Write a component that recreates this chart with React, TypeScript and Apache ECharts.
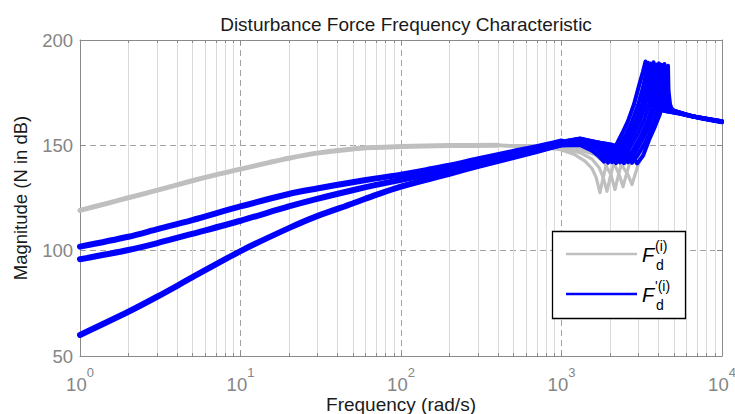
import React, { useEffect, useRef } from "react";
import * as echarts from "echarts";

type Pt = [number, number];

const FONT = "'Liberation Sans', Arial, Helvetica, sans-serif";
const TITLE = "Disturbance Force Frequency Characteristic";
const X_NAME = "Frequency (rad/s)";
const Y_NAME = "Magnitude (N in dB)";
const Y_MIN = 50;
const Y_MAX = 200;
const Y_STEP = 50;
const X_MIN = 1;
const X_MAX = 10000;
const MINOR_X: number[] = [
  2, 3, 4, 5, 6, 7, 8, 9,
  20, 30, 40, 50, 60, 70, 80, 90,
  200, 300, 400, 500, 600, 700, 800, 900,
  2000, 3000, 4000, 5000, 6000, 7000, 8000, 9000,
];

// ---- F_d^(i) (gray) ----
const grayBase: Pt[] = [
  [1, 119.1], [1.5, 122.6], [2, 125.1], [3, 128.6], [5, 133.2], [7, 136.0], [10, 138.7],
  [15, 141.8], [20, 143.9], [30, 146.3], [50, 148.3], [70, 149.0], [100, 149.5], [200, 149.9], [400, 150.0],
];
const grayV0: Pt[] = [
  [400, 150.0], [700, 149.2], [979, 148.0], [1214, 145.5], [1401, 142.5], [1549, 139.0], [1640, 135.0],
  [1738, 127.5], [1814, 134.5], [1894, 140.0], [2005, 145.0], [2124, 148.5], [2186, 150.0], [2382, 155.5],
  [2596, 161.5], [2830, 169.5], [3084, 180.0], [3220, 185.0], [3338, 189.8], [3386, 180.0], [3459, 173.0],
  [3560, 169.5], [3824, 167.3], [4414, 166.3], [5474, 165.0], [6318, 163.9], [8065, 162.6], [10000, 161.4],
];
const grayV1: Pt[] = [
  [400, 150.0], [700, 149.4], [979, 148.6], [1304, 146.5], [1549, 143.5], [1713, 139.5], [1814, 135.0],
  [1921, 128.2], [2005, 134.5], [2094, 140.0], [2218, 145.0], [2348, 148.5], [2451, 150.5], [2672, 155.5],
  [2912, 161.5], [3174, 169.5], [3362, 177.5], [3509, 184.0], [3611, 188.8], [3663, 180.0], [3743, 172.5],
  [3852, 169.0], [4168, 167.2], [4812, 166.0], [5882, 164.6], [6787, 163.5], [8418, 162.3], [10000, 161.3],
];
const grayV2: Pt[] = [
  [400, 150.0], [700, 149.5], [979, 149.0], [1304, 147.8], [1617, 145.5], [1840, 142.0], [2034, 136.0],
  [2154, 129.0], [2249, 135.0], [2348, 140.5], [2487, 145.5], [2634, 148.6], [2750, 150.8], [2997, 155.8],
  [3266, 162.0], [3509, 169.5], [3663, 176.5], [3770, 182.5], [3880, 188.4], [3936, 180.0], [4021, 172.5],
  [4138, 169.0], [4478, 167.0], [5169, 165.8], [6318, 164.0], [8065, 162.5], [10000, 161.2],
];
const grayV3: Pt[] = [
  [400, 150.0], [700, 149.6], [979, 149.3], [1401, 148.2], [1738, 146.5], [2005, 143.5], [2186, 139.5],
  [2315, 135.0], [2416, 130.3], [2523, 135.5], [2634, 140.5], [2789, 145.5], [2954, 148.8], [3084, 150.7],
  [3362, 156.0], [3611, 162.0], [3824, 168.0], [3993, 174.5], [4109, 181.0], [4198, 188.2], [4258, 180.0],
  [4351, 172.5], [4478, 169.0], [4812, 166.6], [5474, 165.5], [6787, 163.4], [10000, 161.1],
];
const grayV4: Pt[] = [
  [400, 150.0], [700, 149.7], [979, 149.5], [1505, 148.5], [1866, 146.8], [2154, 144.0], [2382, 140.5],
  [2596, 136.0], [2750, 131.4], [2871, 136.0], [2997, 140.5], [3174, 145.0], [3362, 149.0], [3509, 152.5],
  [3824, 159.0], [4109, 165.0], [4289, 170.0], [4414, 175.5], [4543, 182.0], [4608, 187.8], [4642, 176.0],
  [4743, 169.5], [4881, 166.8], [5474, 165.5], [6318, 164.0], [8065, 162.5], [10000, 161.0],
];

// ---- F'_d^(i) (blue) ----
const blueB1: Pt[] = [
  [1, 101.9], [2, 106.6], [3, 110.1], [5, 114.5], [10, 121.0], [20, 126.9], [30, 129.5], [50, 132.5],
  [70, 134.3], [100, 136.1], [150, 138.5], [200, 140.3], [300, 143.3], [500, 146.9], [700, 149.1], [1000, 151.8],
];
const blueB2: Pt[] = [
  [1, 95.9], [2, 100.3], [3, 103.5], [5, 108.0], [10, 114.2], [20, 121.0], [30, 124.6], [50, 128.7],
  [70, 131.2], [100, 133.6], [150, 136.3], [200, 138.4], [300, 141.6], [500, 145.6], [700, 148.2], [1000, 151.2],
];
const blueB3: Pt[] = [
  [1, 60.0], [2, 71.0], [3, 78.0], [5, 87.3], [10, 99.8], [20, 110.7], [30, 116.4], [50, 122.4],
  [70, 126.5], [100, 130.4], [150, 134.0], [200, 136.5], [300, 140.1], [500, 144.4], [700, 147.3], [1000, 150.6],
];
const blueK0: Pt[] = [
  [700, 147.3], [1000, 149.9], [1304, 150.2], [1549, 147.5], [1688, 145.2], [1840, 142.3], [2005, 145.3],
  [2186, 150.0], [2382, 155.5], [2596, 161.5], [2830, 169.5], [3084, 180.0], [3220, 185.0], [3338, 189.8],
  [3386, 180.0], [3459, 173.0], [3560, 169.5], [3824, 167.3], [4414, 166.3], [5474, 165.0], [6318, 163.9],
  [8065, 162.6], [10000, 161.4],
];
const blueK1: Pt[] = [
  [700, 147.6], [1000, 150.4], [1304, 151.5], [1640, 148.3], [1788, 145.6], [1949, 141.8], [2124, 145.5],
  [2315, 150.3], [2523, 155.3], [2750, 161.3], [2997, 169.0], [3220, 177.5], [3362, 184.0], [3459, 189.2],
  [3509, 180.0], [3585, 172.5], [3689, 169.0], [3993, 167.2], [4608, 166.0], [5474, 165.2], [6318, 163.9],
  [8065, 162.6], [10000, 161.4],
];
const blueK2: Pt[] = [
  [700, 147.9], [1000, 150.8], [1304, 152.3], [1738, 148.6], [1894, 145.8], [2064, 142.0], [2249, 145.8],
  [2451, 150.5], [2672, 155.5], [2912, 161.5], [3174, 169.5], [3362, 177.5], [3509, 184.0], [3611, 188.8],
  [3663, 180.0], [3743, 172.5], [3852, 169.0], [4168, 167.2], [4812, 166.0], [5882, 164.6], [6787, 163.5],
  [8418, 162.3], [10000, 161.3],
];
const blueK3: Pt[] = [
  [700, 148.1], [1000, 151.2], [1304, 152.8], [1840, 148.7], [2005, 145.6], [2186, 141.6], [2382, 145.5],
  [2596, 150.6], [2830, 155.8], [3084, 162.0], [3314, 169.0], [3509, 177.0], [3637, 183.5], [3743, 189.4],
  [3797, 180.0], [3880, 172.5], [3993, 169.0], [4351, 167.0], [5023, 165.8], [6318, 164.0], [8065, 162.5],
  [10000, 161.3],
];
const blueK4: Pt[] = [
  [700, 148.3], [1000, 151.5], [1304, 153.1], [1594, 151.5], [1949, 148.6], [2124, 145.8], [2315, 141.9],
  [2523, 145.7], [2750, 150.8], [2997, 155.8], [3266, 162.0], [3509, 169.5], [3663, 176.5], [3770, 182.5],
  [3880, 188.4], [3936, 180.0], [4021, 172.5], [4138, 169.0], [4478, 167.0], [5169, 165.8], [6318, 164.0],
  [8065, 162.5], [10000, 161.2],
];
const blueK5: Pt[] = [
  [700, 148.5], [1000, 151.7], [1304, 153.3], [1688, 151.4], [2064, 148.5], [2249, 145.7], [2451, 141.5],
  [2672, 145.4], [2912, 150.4], [3174, 155.5], [3459, 162.0], [3663, 168.5], [3824, 175.0], [3936, 181.5],
  [4050, 188.9], [4109, 180.0], [4198, 172.5], [4320, 169.0], [4675, 166.8], [5320, 165.6], [6787, 163.4],
  [10000, 161.2],
];
const blueK6: Pt[] = [
  [700, 148.4], [1000, 151.6], [1304, 153.0], [1788, 151.0], [2186, 148.6], [2382, 145.8], [2596, 142.0],
  [2830, 145.8], [3084, 150.7], [3362, 156.0], [3611, 162.0], [3824, 168.0], [3993, 174.5], [4109, 181.0],
  [4198, 188.2], [4258, 180.0], [4351, 172.5], [4478, 169.0], [4812, 166.6], [5474, 165.5], [6787, 163.4],
  [10000, 161.1],
];
const blueK7: Pt[] = [
  [700, 148.2], [1000, 151.4], [1304, 152.6], [1894, 150.8], [2315, 148.5], [2523, 145.7], [2750, 141.7],
  [2997, 145.5], [3266, 150.3], [3509, 155.0], [3770, 161.0], [3993, 167.0], [4168, 173.5], [4289, 180.0],
  [4382, 188.6], [4446, 180.0], [4543, 172.5], [4675, 168.5], [5023, 166.4], [5799, 165.0], [7293, 162.9],
  [10000, 161.0],
];
const blueK8: Pt[] = [
  [700, 148.0], [1000, 151.1], [1304, 152.2], [2005, 150.5], [2487, 148.6], [2711, 145.6], [2954, 141.4],
  [3220, 145.0], [3509, 152.5], [3824, 159.0], [4109, 165.0], [4289, 170.0], [4414, 175.5], [4543, 182.0],
  [4608, 187.8], [4642, 176.0], [4743, 169.5], [4881, 166.8], [5474, 165.5], [6318, 164.0], [8065, 162.5],
  [10000, 161.0],
];

const GRAY_BASE = [grayBase];
const GRAY_VARIANTS = [grayV0, grayV1, grayV2, grayV3, grayV4];
const BLUE_BASE = [blueB1, blueB2, blueB3];
const BLUE_VARIANTS = [blueK0, blueK1, blueK2, blueK3, blueK4, blueK5, blueK6, blueK7, blueK8];

const GRAY = "#bfbfbf";
const BLUE = "#0000ff";
const AXIS = "#8a8a8a";
const LABEL = "#858585";
const TEXT = "#1a1a1a";

function lineSeries(name: string, data: Pt[], color: string, width: number, smooth: number) {
  return {
    name,
    type: "line",
    data,
    xAxisIndex: 0,
    yAxisIndex: 0,
    showSymbol: false,
    symbol: "none",
    silent: true,
    clip: true,
    smooth,
    lineStyle: { color, width, join: "round", cap: "round" },
    emphasis: { disabled: true },
    z: 3,
  };
}

export default function App() {
  const ref = useRef<HTMLDivElement>(null);

  useEffect(() => {
    if (!ref.current) return;
    const chart = echarts.init(ref.current, undefined, { renderer: "svg" });

    const series: any[] = [];
    series.push({
      type: "custom",
      xAxisIndex: 0,
      yAxisIndex: 0,
      silent: true,
      z: 1,
      data: MINOR_X.map((v) => [v, 125]),
      renderItem: (params: any, api: any) => {
        const p = api.coord([api.value(0), api.value(1)]);
        const cs = params.coordSys;
        const x = Math.round(p[0]) + 0.5;
        const top = cs.y;
        const bot = cs.y + cs.height;
        return {
          type: "group",
          children: [
            { type: "line", shape: { x1: x, y1: top, x2: x, y2: bot }, style: { stroke: "#dadada", lineWidth: 1 } },
            { type: "line", shape: { x1: x, y1: bot - 3, x2: x, y2: bot }, style: { stroke: AXIS, lineWidth: 1 } },
            { type: "line", shape: { x1: x, y1: top, x2: x, y2: top + 3 }, style: { stroke: AXIS, lineWidth: 1 } },
          ],
        };
      },
    });
    GRAY_BASE.forEach((d, i) => series.push(lineSeries("Fd_gray_base_" + i, d, GRAY, 5, 0.3)));
    GRAY_VARIANTS.forEach((d, i) => series.push(lineSeries("Fd_gray_" + i, d, GRAY, 3.2, 0)));
    BLUE_BASE.forEach((d, i) => series.push(lineSeries("Fd_blue_base_" + i, d, BLUE, 6, 0.3)));
    BLUE_VARIANTS.forEach((d, i) => series.push(lineSeries("Fd_blue_" + i, d, BLUE, 4, 0)));

    const legendText = (text: string, x: number, y: number, size: number, italic: boolean) => ({
      type: "text",
      z: 101,
      silent: true,
      style: {
        text,
        x,
        y,
        font: `${italic ? "italic " : ""}${size}px ${FONT}`,
        fill: "#000",
        textAlign: "left",
        align: "left",
        textVerticalAlign: "middle",
        verticalAlign: "middle",
      },
    });

    const option: any = {
      animation: false,
      backgroundColor: "#ffffff",
      textStyle: { fontFamily: FONT },
      title: {
        text: TITLE,
        left: 401,
        top: 10,
        textAlign: "center",
        textStyle: { fontSize: 19, fontWeight: "normal", color: TEXT, fontFamily: FONT },
      },
      grid: { left: 80, right: 13, top: 40, bottom: 58, containLabel: false, outerBoundsMode: "none" },
      xAxis: [
        {
          type: "log",
          logBase: 10,
          min: X_MIN,
          max: X_MAX,
          name: X_NAME,
          nameLocation: "middle",
          nameGap: 40,
          nameMoveOverlap: false,
          nameTextStyle: { fontSize: 19, lineHeight: 16, color: TEXT, fontFamily: FONT },
          axisLine: { show: true, lineStyle: { color: AXIS, width: 1 } },
          axisTick: { show: true, inside: true, length: 5, lineStyle: { color: AXIS } },
          axisLabel: {
            margin: 10,
            showMinLabel: true,
            showMaxLabel: true,
            hideOverlap: false,
            formatter: (v: number) => `{b|10}{s|${Math.round(Math.log10(v))}}`,
            rich: {
              b: { fontSize: 18.5, color: LABEL, fontFamily: FONT, lineHeight: 28, verticalAlign: "bottom" },
              s: { fontSize: 13, color: LABEL, fontFamily: FONT, lineHeight: 13, verticalAlign: "top" },
            },
          },
          splitLine: { show: true, lineStyle: { type: [6, 4], color: "#a3a3a3", width: 1 } },
        },
        {
          type: "log",
          logBase: 10,
          min: X_MIN,
          max: X_MAX,
          position: "top",
          axisLine: { show: true, lineStyle: { color: AXIS, width: 1 } },
          axisTick: { show: true, inside: true, length: 5, lineStyle: { color: AXIS } },
          axisLabel: { show: false },
          splitLine: { show: false },
        },
      ],
      yAxis: [
        {
          type: "value",
          min: Y_MIN,
          max: Y_MAX,
          interval: Y_STEP,
          name: Y_NAME,
          nameLocation: "middle",
          nameGap: 50,
          nameTextStyle: { fontSize: 18.5, color: TEXT, fontFamily: FONT },
          axisLine: { show: true, lineStyle: { color: AXIS, width: 1 } },
          axisTick: { show: true, inside: true, length: 5, lineStyle: { color: AXIS } },
          axisLabel: { color: LABEL, fontSize: 18.5, margin: 7, fontFamily: FONT },
          splitLine: { show: true, lineStyle: { type: [6, 4], color: "#a3a3a3", width: 1 } },
        },
        {
          type: "value",
          min: Y_MIN,
          max: Y_MAX,
          interval: Y_STEP,
          position: "right",
          axisLine: { show: true, lineStyle: { color: AXIS, width: 1 } },
          axisTick: { show: true, inside: true, length: 5, lineStyle: { color: AXIS } },
          axisLabel: { show: false },
          splitLine: { show: false },
        },
      ],
      series,
      graphic: [
        {
          type: "rect",
          z: 100,
          silent: true,
          shape: { x: 552.5, y: 231.5, width: 133, height: 87 },
          style: { fill: "#ffffff", stroke: "#000000", lineWidth: 1.3 },
        },
        { type: "line", z: 101, silent: true, shape: { x1: 566, y1: 254, x2: 637, y2: 254 }, style: { stroke: GRAY, lineWidth: 2.5 } },
        { type: "line", z: 101, silent: true, shape: { x1: 566, y1: 294, x2: 637, y2: 294 }, style: { stroke: BLUE, lineWidth: 2.5 } },
        legendText("F", 642, 255, 20, true),
        legendText("(i)", 655, 246, 14, false),
        legendText("d", 656, 264.5, 14, false),
        legendText("F", 642, 295, 20, true),
        legendText("'(i)", 655, 286, 14, false),
        legendText("d", 656, 304.5, 14, false),
      ],
    };

    chart.setOption(option);
    return () => chart.dispose();
  }, []);

  return (
    <div
      ref={ref}
      style={{ position: "fixed", left: 0, top: 0, width: 735, height: 414, background: "#ffffff" }}
    />
  );
}
